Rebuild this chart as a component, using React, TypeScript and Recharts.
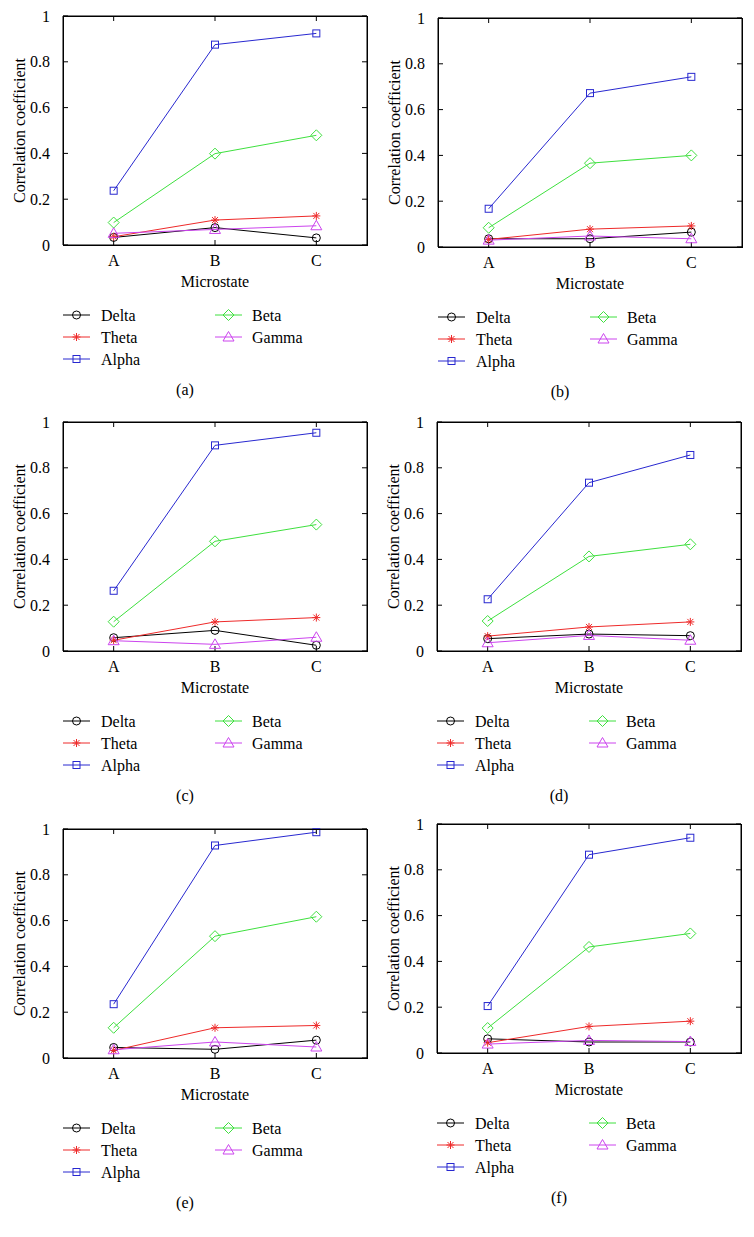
import React from 'react';
import { LineChart, Line, XAxis, YAxis } from 'recharts';

const categories = ['A', 'B', 'C'];
const panelLabels = ['(a)', '(b)', '(c)', '(d)', '(e)', '(f)'];

// one row per panel (a)..(f), values at A, B, C
const delta = [
  [0.033, 0.076, 0.031],
  [0.036, 0.036, 0.065],
  [0.058, 0.09, 0.025],
  [0.054, 0.074, 0.067],
  [0.046, 0.038, 0.078],
  [0.062, 0.048, 0.048],
];
const theta = [
  [0.036, 0.109, 0.127],
  [0.033, 0.078, 0.092],
  [0.047, 0.127, 0.146],
  [0.065, 0.105, 0.127],
  [0.033, 0.132, 0.142],
  [0.045, 0.116, 0.139],
];
const alpha = [
  [0.237, 0.875, 0.924],
  [0.167, 0.672, 0.743],
  [0.263, 0.898, 0.953],
  [0.226, 0.735, 0.856],
  [0.235, 0.928, 0.986],
  [0.205, 0.866, 0.94],
];
const beta = [
  [0.098, 0.399, 0.479],
  [0.084, 0.366, 0.4],
  [0.128, 0.479, 0.552],
  [0.131, 0.413, 0.466],
  [0.132, 0.532, 0.617],
  [0.109, 0.463, 0.522],
];
const gamma = [
  [0.051, 0.068, 0.084],
  [0.03, 0.048, 0.036],
  [0.045, 0.029, 0.06],
  [0.036, 0.068, 0.047],
  [0.036, 0.07, 0.048],
  [0.039, 0.055, 0.05],
];
const yTicks = [0, 0.2, 0.4, 0.6, 0.8, 1];

// delta is plotted against the mirrored top/right axes (same scales)
const series = [
  { key: 'delta', name: 'Delta', color: '#000000', shape: 'circle', xId: 'top', yId: 'right' },
  { key: 'theta', name: 'Theta', color: '#ee2a2a', shape: 'star', xId: 'bottom', yId: 'left' },
  { key: 'alpha', name: 'Alpha', color: '#2828d0', shape: 'square', xId: 'bottom', yId: 'left' },
  { key: 'beta', name: 'Beta', color: '#3ee03e', shape: 'diamond', xId: 'bottom', yId: 'left' },
  { key: 'gamma', name: 'Gamma', color: '#cc44ee', shape: 'triangle', xId: 'bottom', yId: 'left' },
];

// where each plot area sits on the page
const plotPos = [
  { left: 63, top: 16 },
  { left: 438, top: 18 },
  { left: 63, top: 422 },
  { left: 437, top: 422 },
  { left: 63, top: 829 },
  { left: 437, top: 824 },
];

const FONT = '"Liberation Serif", "Times New Roman", serif';
const PLOT_W = 304;
const PLOT_H = 229;
const PAD = PLOT_W / 6;

const Marker = ({ shape, cx, cy, color }: any) => {
  const p = { fill: 'none', stroke: color, strokeWidth: 1 };
  if (shape === 'circle') return <circle cx={cx} cy={cy} r={4} {...p} />;
  if (shape === 'square') return <rect x={cx - 3.5} y={cy - 3.5} width={7} height={7} {...p} />;
  if (shape === 'diamond')
    return <polygon points={`${cx},${cy - 5.5} ${cx + 5.5},${cy} ${cx},${cy + 5.5} ${cx - 5.5},${cy}`} {...p} />;
  if (shape === 'triangle')
    return <polygon points={`${cx},${cy - 5.5} ${cx + 5.5},${cy + 4} ${cx - 5.5},${cy + 4}`} {...p} />;
  const s = 4;
  return (
    <g {...p}>
      <line x1={cx - s} y1={cy} x2={cx + s} y2={cy} />
      <line x1={cx} y1={cy - s} x2={cx} y2={cy + s} />
      <line x1={cx - s * 0.75} y1={cy - s * 0.75} x2={cx + s * 0.75} y2={cy + s * 0.75} />
      <line x1={cx - s * 0.75} y1={cy + s * 0.75} x2={cx + s * 0.75} y2={cy - s * 0.75} />
    </g>
  );
};

const EmptyTick = () => <g />;

const YLabel = (props: any) => {
  const vb = props.viewBox;
  const cy = vb.y + vb.height / 2;
  return (
    <text x={25} y={cy} transform={`rotate(-90, 25, ${cy})`} textAnchor="middle" fontSize={16} fill="#000" fontFamily={FONT}>
      Correlation coefficient
    </text>
  );
};

const XLabel = (props: any) => {
  const vb = props.viewBox;
  return (
    <text x={vb.x + vb.width / 2} y={vb.y + 42} textAnchor="middle" fontSize={16} fill="#000" fontFamily={FONT}>
      Microstate
    </text>
  );
};

const Panel = ({ idx }: { idx: number }) => {
  const rows = categories.map((cat, i) => ({
    cat,
    delta: delta[idx][i],
    theta: theta[idx][i],
    alpha: alpha[idx][i],
    beta: beta[idx][i],
    gamma: gamma[idx][i],
  }));
  const pos = plotPos[idx];
  const tickStyle = { fill: '#000', fontSize: 16, fontFamily: FONT };
  const legendCols = [
    { line: 63, text: 101 },
    { line: 215, text: 252 },
  ];
  const legendLayout = [
    [0, 0],
    [0, 1],
    [0, 2],
    [1, 0],
    [1, 1],
  ];
  return (
    <div style={{ position: 'absolute', left: pos.left - 63, top: pos.top - 16, width: 377, height: 400 }}>
      <LineChart
        width={377}
        height={16 + PLOT_H + 45}
        data={rows}
        margin={{ top: 15, right: 9, bottom: 0, left: 0 }}
        style={{ fontFamily: FONT }}
      >
        <XAxis
          xAxisId="bottom"
          dataKey="cat"
          height={45}
          padding={{ left: PAD, right: PAD }}
          tickSize={-5}
          tickMargin={15}
          stroke="#000"
          tick={tickStyle}
          label={{ content: XLabel }}
        />
        <XAxis
          xAxisId="top"
          dataKey="cat"
          orientation="top"
          height={1}
          padding={{ left: PAD, right: PAD }}
          tickSize={-5}
          stroke="#000"
          tick={EmptyTick}
        />
        <YAxis
          yAxisId="left"
          type="number"
          domain={[0, 1]}
          ticks={yTicks}
          width={63}
          tickSize={-5}
          tickMargin={18}
          stroke="#000"
          tick={tickStyle}
          label={{ content: YLabel }}
        />
        <YAxis
          yAxisId="right"
          orientation="right"
          type="number"
          domain={[0, 1]}
          ticks={yTicks}
          width={1}
          tickSize={-5}
          stroke="#000"
          tick={EmptyTick}
        />
        {series.map((s) => (
          <Line
            key={s.key}
            xAxisId={s.xId}
            yAxisId={s.yId}
            type="linear"
            dataKey={s.key}
            name={s.name}
            stroke={s.color}
            strokeWidth={1}
            isAnimationActive={false}
            activeDot={false}
            dot={(d: any) => (
              <Marker key={`${s.key}-${d.index}`} shape={s.shape} cx={d.cx} cy={d.cy} color={s.color} />
            )}
          />
        ))}
      </LineChart>
      {/* box round the plot area */}
      <div
        style={{
          position: 'absolute',
          left: 62.5,
          top: 15.5,
          width: PLOT_W + 1,
          height: PLOT_H + 1,
          border: '1px solid #000',
          boxSizing: 'border-box',
          pointerEvents: 'none',
        }}
      />
      <svg
        width={377}
        height={160}
        style={{ position: 'absolute', left: 0, top: 16 + PLOT_H }}
        fontFamily={FONT}
        fontSize={16}
      >
        {series.map((s, i) => {
          const [c, r] = legendLayout[i];
          const col = legendCols[c];
          const y = 70 + r * 22;
          return (
            <g key={s.key}>
              <line x1={col.line} y1={y} x2={col.line + 27} y2={y} stroke={s.color} strokeWidth={1} />
              <Marker shape={s.shape} cx={col.line + 13.5} cy={y} color={s.color} />
              <text x={col.text} y={y + 5.5} fill="#000">
                {s.name}
              </text>
            </g>
          );
        })}
        <text x={185} y={150} textAnchor="middle" fill="#000">
          {panelLabels[idx]}
        </text>
      </svg>
    </div>
  );
};

export default function App() {
  return (
    <div style={{ position: 'absolute', left: 0, top: 0, width: 754, height: 1237, background: '#fff', fontFamily: FONT }}>
      {plotPos.map((_, i) => (
        <Panel key={i} idx={i} />
      ))}
    </div>
  );
}
